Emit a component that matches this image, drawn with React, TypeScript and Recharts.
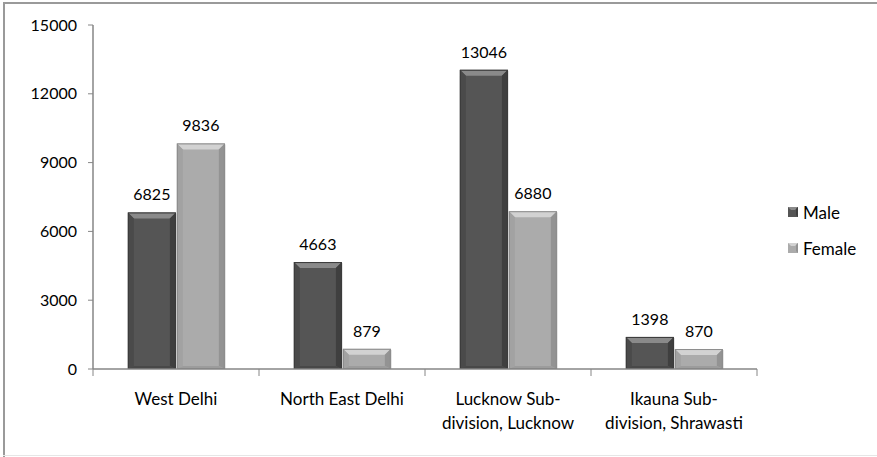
import React from "react";
import { BarChart, Bar, XAxis, YAxis, LabelList } from "recharts";

const categories = [
  "West Delhi",
  "North East Delhi",
  "Lucknow Sub-division, Lucknow",
  "Ikauna Sub-division, Shrawasti",
];
const categoryLines = [
  ["West Delhi"],
  ["North East Delhi"],
  ["Lucknow Sub-", "division, Lucknow"],
  ["Ikauna Sub-", "division, Shrawasti"],
];
const male = [6825, 4663, 13046, 1398];
const female = [9836, 879, 6880, 870];
const yTicks = [0, 3000, 6000, 9000, 12000, 15000];

const data = categories.map((c, i) => ({
  name: c,
  male: male[i],
  female: female[i],
}));

const W = 877;
const H = 457;
const PLOT_LEFT = 93;
const PLOT_RIGHT = 757;
const BAND = (PLOT_RIGHT - PLOT_LEFT) / categories.length;
const FONT = "Lato, 'Open Sans', sans-serif";

const palette = {
  male: { face: "#555555", top: "#8a8a8a", left: "#4a4a4a", right: "#3f3f3f", bottom: "#484848", stroke: "#3a3a3a" },
  female: { face: "#ababab", top: "#d2d2d2", left: "#a2a2a2", right: "#939393", bottom: "#9c9c9c", stroke: "#8c8c8c" },
};

const bevelShape = (kind: "male" | "female") => (props: any) => {
  const { x, y, width: w, height: h } = props;
  if (!h || h <= 0) return null;
  const p = palette[kind];
  const b = Math.min(6, h / 2, w / 4);
  const bb = Math.min(3, h / 4);
  return (
    <g>
      <rect x={x + 1} y={y + 1} width={w} height={h - 1} fill="#000" opacity={0.12} />
      <rect x={x} y={y} width={w} height={h} fill={p.face} />
      <polygon points={`${x},${y} ${x + w},${y} ${x + w - b},${y + b} ${x + b},${y + b}`} fill={p.top} />
      <polygon points={`${x},${y} ${x + b},${y + b} ${x + b},${y + h - bb} ${x},${y + h}`} fill={p.left} />
      <polygon points={`${x + w},${y} ${x + w},${y + h} ${x + w - b},${y + h - bb} ${x + w - b},${y + b}`} fill={p.right} />
      <polygon points={`${x},${y + h} ${x + w},${y + h} ${x + w - b},${y + h - bb} ${x + b},${y + h - bb}`} fill={p.bottom} />
      <rect x={x + 0.5} y={y + 0.5} width={w - 1} height={h - 1} fill="none" stroke={p.stroke} strokeWidth={1} />
    </g>
  );
};

const CategoryTick = (props: any) => {
  const { x, y, index, payload } = props;
  const lines: string[] = categoryLines[index] || [payload.value];
  const left = x - BAND / 2;
  return (
    <g>
      <line x1={left} y1={y - 8} x2={left} y2={y - 1} stroke="#868686" />
      {index === categories.length - 1 && (
        <line x1={x + BAND / 2} y1={y - 8} x2={x + BAND / 2} y2={y - 1} stroke="#868686" />
      )}
      {lines.map((l, i) => (
        <text key={i} x={x} y={y + 28 + i * 24} textAnchor="middle" fill="#000" fontSize={17} fontFamily={FONT}>
          {l}
        </text>
      ))}
    </g>
  );
};

const LegendSwatch = ({ kind }: { kind: "male" | "female" }) => {
  const p = palette[kind];
  return (
    <svg width={10} height={10} style={{ display: "block" }}>
      <rect x={0} y={0} width={10} height={10} fill={p.face} />
      <polygon points="0,0 10,0 7,3 3,3" fill={p.top} />
      <polygon points="10,0 10,10 8,8 8,2" fill={p.right} />
    </svg>
  );
};

export default function App() {
  return (
    <div style={{ position: "absolute", left: 0, top: 0, width: W, height: H, background: "#fff", overflow: "hidden" }}>
      <div style={{ position: "absolute", left: 3, top: 2, width: W, height: 2, background: "#9a9a9a" }} />
      <div style={{ position: "absolute", left: 3, top: 2, width: 2, height: H, background: "#9a9a9a" }} />
      <div style={{ position: "absolute", left: 3, top: 455, width: W, height: 1, background: "#e6e6e6" }} />
      <BarChart
        width={W}
        height={H}
        data={data}
        margin={{ top: 25, right: W - PLOT_RIGHT, bottom: 28, left: 0 }}
        barCategoryGap="21%"
        barGap={1}
      >
        <XAxis
          dataKey="name"
          axisLine={{ stroke: "#868686", strokeWidth: 1.5 }}
          tickLine={false}
          interval={0}
          height={60}
          tick={<CategoryTick />}
        />
        <YAxis
          width={PLOT_LEFT}
          domain={[0, 15000]}
          ticks={yTicks}
          axisLine={{ stroke: "#868686", strokeWidth: 1.5 }}
          tickLine={{ stroke: "#868686" }}
          tickSize={5}
          tickMargin={11}
          tick={{ fill: "#000", fontSize: 16, fontFamily: FONT }}
        />
        <Bar dataKey="male" name="Male" isAnimationActive={false} shape={bevelShape("male")}>
          <LabelList dataKey="male" position="top" offset={12} fill="#000" fontSize={16} fontFamily={FONT} />
        </Bar>
        <Bar dataKey="female" name="Female" isAnimationActive={false} shape={bevelShape("female")}>
          <LabelList dataKey="female" position="top" offset={12} fill="#000" fontSize={16} fontFamily={FONT} />
        </Bar>
      </BarChart>
      <div style={{ position: "absolute", left: 788, top: 200, fontFamily: FONT, fontSize: 17, color: "#000" }}>
        {[
          { kind: "male" as const, label: "Male" },
          { kind: "female" as const, label: "Female" },
        ].map((it) => (
          <div key={it.kind} style={{ display: "flex", alignItems: "center", height: 24, marginBottom: 12 }}>
            <LegendSwatch kind={it.kind} />
            <span style={{ marginLeft: 5 }}>{it.label}</span>
          </div>
        ))}
      </div>
    </div>
  );
}
